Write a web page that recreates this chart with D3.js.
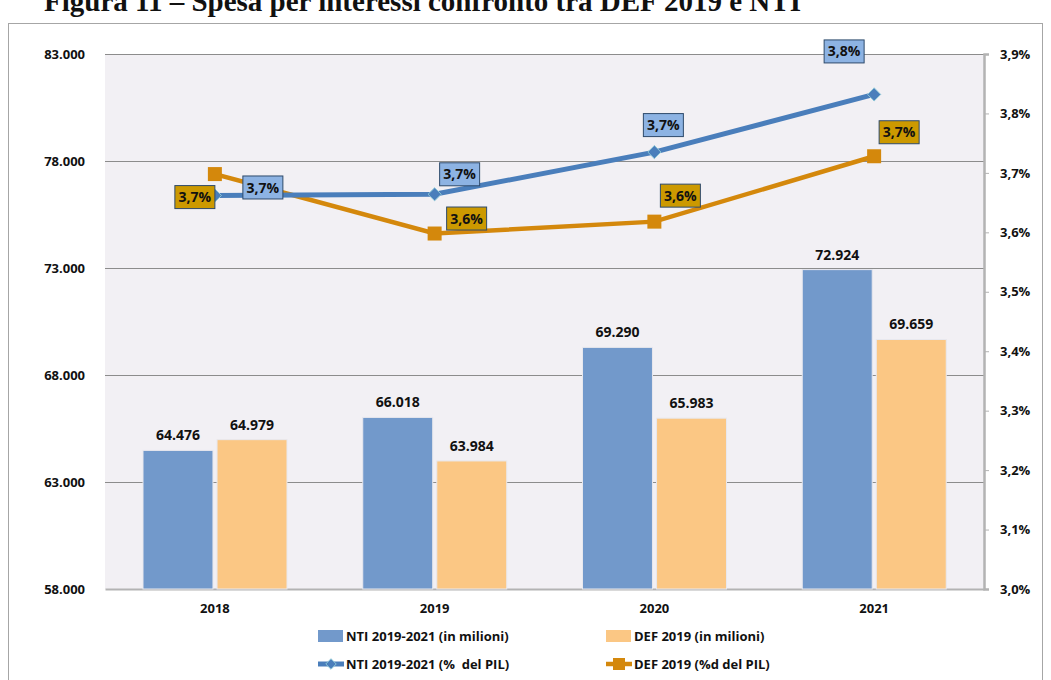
<!doctype html>
<html>
<head>
<meta charset="utf-8">
<script src="https://cdn.jsdelivr.net/npm/d3@7"></script>
<style>
  body { margin: 0; background: #fff; }
  text { font-family: "Open Sans", sans-serif; font-weight: bold; fill: #111; }
</style>
</head>
<body>
<svg id="chart" width="1051" height="680"></svg>
<script>
// data
const years = ["2018", "2019", "2020", "2021"];
const ntiMil = [64476, 66018, 69290, 72924];
const defMil = [64979, 63984, 65983, 69659];
const ntiPil = [3.662, 3.664, 3.735, 3.832];
const defPil = [3.698, 3.598, 3.618, 3.728];
const ntiPilLabels = ["3,7%", "3,7%", "3,7%", "3,8%"];
const defPilLabels = ["3,7%", "3,6%", "3,6%", "3,7%"];
const leftTicks = [58000, 63000, 68000, 73000, 78000, 83000];
const rightTicks = [3.0, 3.1, 3.2, 3.3, 3.4, 3.5, 3.6, 3.7, 3.8, 3.9];

// label box offsets from their point (px)
const ntiOff = [[48, -8], [25, -20], [9, -27], [-30, -43]];
const defOff = [[-20, 23], [32, -15], [26, -26], [25, -24]];

const svg = d3.select("#chart");
const pLeft = 105, pRight = 984, pTop = 54, pBottom = 589;

// outer frame
svg.append("rect").attr("x", 8.5).attr("y", 23.5).attr("width", 1034).attr("height", 700)
  .attr("fill", "none").attr("stroke", "#a6a6a6");

// title (the scan cuts its upper half)
svg.append("text").attr("x", 44).attr("y", 11)
  .style("font-family", "'Liberation Serif', serif").style("font-size", "29px")
  .text("Figura 11 – Spesa per interessi confronto tra DEF 2019 e NTI");

// plot background
svg.append("rect").attr("x", pLeft).attr("y", pTop).attr("width", pRight - pLeft).attr("height", pBottom - pTop)
  .attr("fill", "#f2f0f4");

let x0 = d3.scaleBand().domain(years).range([pLeft, pRight]);
let x1 = d3.scaleBand().domain(["nti", "def"]).range([38, 182]).paddingInner(0.055);
let y = d3.scaleLinear().domain([58000, 83000]).range([pBottom, pTop]);
let y2 = d3.scaleLinear().domain([3.0, 3.9]).range([pBottom, pTop]);

// gridlines
svg.append("g").selectAll("line").data(leftTicks.slice(1)).join("line")
  .attr("x1", pLeft).attr("x2", pRight)
  .attr("y1", d => y(d) + 0.5).attr("y2", d => y(d) + 0.5)
  .attr("stroke", "#8c8c8c").attr("stroke-width", 1.2);

// left axis
let fmt = d3.formatLocale({ decimal: ",", thousands: ".", grouping: [3], currency: ["", ""] });
let axL = svg.append("g").attr("transform", "translate(" + pLeft + ",0)")
  .call(d3.axisLeft(y).tickValues(leftTicks).tickFormat(fmt.format(",")).tickSize(0).tickPadding(20));
axL.select(".domain").remove();
axL.selectAll("text").style("font-size", "13px").style("font-family", "'Open Sans', sans-serif");

// right axis
let axR = svg.append("g").attr("transform", "translate(" + pRight + ",0)")
  .call(d3.axisRight(y2).tickValues(rightTicks).tickFormat(d => d.toFixed(1).replace(".", ",") + "%")
    .tickSize(5).tickPadding(11));
axR.select(".domain").attr("stroke", "#b3b3b3").attr("stroke-width", 2.5);
axR.selectAll(".tick line").attr("stroke", "#b3b3b3");
axR.selectAll("text").style("font-size", "13px").style("font-family", "'Open Sans', sans-serif");

// bottom axis
let axB = svg.append("g").attr("transform", "translate(0," + pBottom + ")")
  .call(d3.axisBottom(x0).tickSize(0).tickPadding(15));
axB.select(".domain").attr("stroke", "#b3b3b3").attr("stroke-width", 2);
axB.selectAll("text").style("font-size", "13px").style("font-family", "'Open Sans', sans-serif");

// bars
let series = [
  { key: "nti", vals: ntiMil, color: "#7299cb" },
  { key: "def", vals: defMil, color: "#fbc784" }
];
series.forEach(function (s) {
  let g = svg.append("g");
  g.selectAll("rect").data(years).join("rect")
    .attr("x", d => x0(d) + x1(s.key))
    .attr("width", x1.bandwidth())
    .attr("y", (d, i) => y(s.vals[i]))
    .attr("height", (d, i) => pBottom - y(s.vals[i]))
    .attr("fill", s.color)
    .attr("stroke", "#e8e8ee").attr("stroke-width", 1);
  g.selectAll("text").data(years).join("text")
    .attr("x", d => x0(d) + x1(s.key) + x1.bandwidth() / 2)
    .attr("y", (d, i) => y(s.vals[i]) - 10)
    .attr("text-anchor", "middle")
    .style("font-size", "14px")
    .text((d, i) => fmt.format(",")(s.vals[i]));
});

let cx = d => x0(d) + x0.bandwidth() / 2;
let pilLine = d3.line().x((d, i) => cx(years[i])).y(d => y2(d));

// DEF % line
svg.append("path").datum(defPil).attr("d", pilLine)
  .attr("fill", "none").attr("stroke", "#d4880c").attr("stroke-width", 4.5);
svg.append("g").selectAll("rect").data(defPil).join("rect")
  .attr("x", (d, i) => cx(years[i]) - 7).attr("y", d => y2(d) - 7)
  .attr("width", 14).attr("height", 14).attr("fill", "#d4880c");

// NTI % line
svg.append("path").datum(ntiPil).attr("d", pilLine)
  .attr("fill", "none").attr("stroke", "#4a7ebb").attr("stroke-width", 5);
svg.append("g").selectAll("path").data(ntiPil).join("path")
  .attr("d", d3.symbol().type(d3.symbolDiamond2).size(110))
  .attr("transform", (d, i) => "translate(" + cx(years[i]) + "," + y2(d) + ")")
  .attr("fill", "#4a7ebb").attr("stroke", "#8cc6d6").attr("stroke-width", 1);

// label boxes
function boxes(vals, labels, off, fill) {
  let g = svg.append("g").selectAll("g").data(vals).join("g")
    .attr("transform", (d, i) => "translate(" + (cx(years[i]) + off[i][0]) + "," + (y2(d) + off[i][1]) + ")");
  g.append("rect").attr("x", -20).attr("y", -11.5).attr("width", 40).attr("height", 23)
    .attr("fill", fill).attr("stroke", "#2e4a6b").attr("stroke-width", 1);
  g.append("text").attr("text-anchor", "middle").attr("dy", "0.36em")
    .style("font-size", "14px").text((d, i) => labels[i]);
}
boxes(ntiPil, ntiPilLabels, ntiOff, "#8db3e3");
boxes(defPil, defPilLabels, defOff, "#cc9900");

// legend
let leg = svg.append("g").style("font-size", "13px");
leg.append("rect").attr("x", 318).attr("y", 630).attr("width", 25).attr("height", 12).attr("fill", "#7299cb");
leg.append("text").attr("x", 346).attr("y", 641).text("NTI 2019-2021 (in milioni)");
leg.append("rect").attr("x", 606).attr("y", 630).attr("width", 25).attr("height", 12).attr("fill", "#fbc784");
leg.append("text").attr("x", 634).attr("y", 641).text("DEF 2019 (in milioni)");

leg.append("line").attr("x1", 318).attr("x2", 344).attr("y1", 664).attr("y2", 664)
  .attr("stroke", "#4a7ebb").attr("stroke-width", 5);
leg.append("path").attr("d", d3.symbol().type(d3.symbolDiamond2).size(70))
  .attr("transform", "translate(331,664)").attr("fill", "#4a7ebb").attr("stroke", "#8cc6d6");
leg.append("text").attr("x", 346).attr("y", 669).attr("xml:space", "preserve").text("NTI 2019-2021 (%  del PIL)");
leg.append("line").attr("x1", 606).attr("x2", 632).attr("y1", 664).attr("y2", 664)
  .attr("stroke", "#d4880c").attr("stroke-width", 4.5);
leg.append("rect").attr("x", 613).attr("y", 658).attr("width", 12).attr("height", 12).attr("fill", "#d4880c");
leg.append("text").attr("x", 634).attr("y", 669).text("DEF 2019 (%d del PIL)");
</script>
</body>
</html>
